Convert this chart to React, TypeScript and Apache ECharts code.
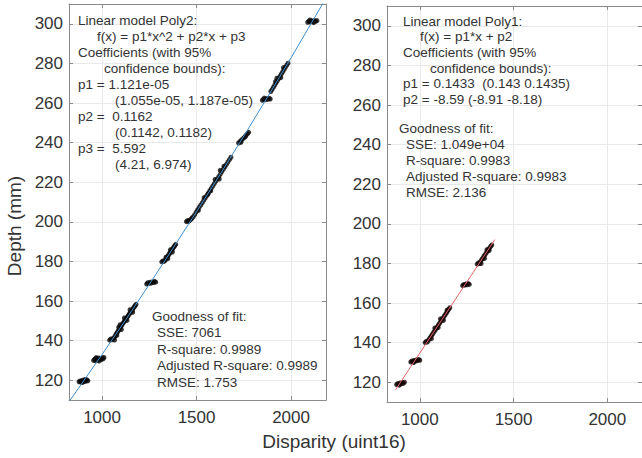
import React, { useEffect, useRef } from "react";
import * as echarts from "echarts";

// ---------- data ----------
const xTicks = [1000, 1500, 2000];
const yTicks = [120, 140, 160, 180, 200, 220, 240, 260, 280, 300];
const xRange = [825, 2185];
const yRange = [110, 310];

// Left panel: measured points (Disparity, Depth)
const poly2Points: [number, number][] = [
  [878, 119.2], [884, 119.6], [889, 119.0], [893, 119.8], [898, 119.4], [902, 120.1], [906, 119.3], [910, 119.9], [915, 119.5], [920, 120.2], [925, 119.7], [896, 118.8], [912, 120.4],
  [955, 130.0], [961, 130.6], [966, 129.8], [971, 130.9], [976, 130.3], [981, 131.2], [986, 130.5], [991, 131.0], [996, 130.4], [1001, 131.3], [1006, 130.8], [1010, 131.5], [968, 131.4], [984, 129.7],
  [1040, 140.2], [1046, 140.8], [1052, 140.4], [1058, 141.0], [1064, 141.6], [1070, 142.5], [1075, 143.4], [1080, 144.0], [1085, 144.9], [1090, 145.5], [1095, 146.4], [1100, 147.2], [1105, 147.8], [1110, 148.7], [1115, 149.3], [1120, 150.1], [1125, 150.6], [1130, 151.5], [1135, 152.1], [1140, 152.8], [1145, 153.6], [1150, 154.2], [1155, 154.9], [1160, 155.5], [1165, 156.3], [1170, 157.0], [1175, 157.6], [1180, 158.3],
  [1088, 146.8], [1102, 145.6], [1118, 151.4], [1132, 150.2], [1148, 155.6], [1162, 154.3], [1078, 142.6], [1095, 148.0], [1066, 140.3],
  [1236, 168.6], [1242, 169.2], [1248, 168.8], [1254, 169.5], [1260, 169.0], [1266, 169.7], [1272, 169.3], [1278, 169.9], [1284, 169.5],
  [1316, 179.8], [1322, 180.2], [1328, 180.0], [1334, 180.6], [1340, 181.5], [1345, 182.3], [1350, 182.9], [1355, 183.8], [1360, 184.4], [1365, 185.2], [1370, 185.8], [1375, 186.6], [1380, 187.3], [1385, 188.0], [1390, 188.6], [1348, 181.4], [1362, 185.9], [1372, 184.7], [1338, 182.1],
  [1446, 200.1], [1452, 200.6], [1458, 200.2], [1464, 200.8], [1470, 201.2], [1476, 201.9], [1482, 202.5], [1490, 203.6], [1498, 204.9], [1506, 206.1], [1514, 207.3], [1522, 208.4], [1530, 209.6], [1538, 210.8], [1546, 212.0], [1554, 213.2], [1562, 214.4], [1570, 215.7], [1578, 216.9], [1586, 218.1], [1594, 219.3], [1602, 220.5], [1610, 221.7], [1618, 222.9], [1626, 224.1], [1634, 225.4], [1642, 226.6], [1650, 227.8], [1658, 229.0], [1666, 230.2], [1674, 231.4], [1682, 232.6],
  [1510, 205.8], [1540, 212.2], [1575, 215.6], [1598, 221.4], [1620, 221.6], [1645, 228.1], [1560, 213.9], [1625, 226.0],
  [1722, 239.8], [1730, 240.6], [1738, 241.3], [1746, 242.0], [1754, 242.8], [1762, 243.7], [1770, 244.5], [1776, 245.2], [1735, 240.1], [1758, 243.0],
  [1848, 261.4], [1855, 261.9], [1862, 261.6], [1869, 262.2], [1876, 261.8], [1883, 262.4], [1890, 262.0], [1858, 262.5],
  [1893, 265.8], [1900, 266.9], [1907, 268.0], [1914, 269.1], [1921, 270.2], [1928, 271.3], [1935, 272.5], [1942, 273.6], [1949, 274.7], [1956, 275.8], [1963, 276.9], [1970, 278.0], [1977, 279.1], [1984, 280.1], [1925, 272.5], [1918, 270.9], [1946, 272.8], [1960, 277.9],
  [2088, 300.8], [2095, 301.3], [2102, 300.9], [2109, 301.5], [2116, 301.1], [2123, 301.7], [2130, 301.2], [2137, 301.6], [2100, 301.9], [2120, 300.6],
];

// Left panel: fitted curve (Poly2)
const poly2Fit: [number, number][] = [
  [825, 109.1], [1000, 133.0], [1125, 150.5], [1250, 168.4], [1375, 186.6], [1500, 205.1],
  [1625, 224.0], [1750, 243.3], [1875, 262.9], [2000, 282.8], [2185, 313.0],
];

// Right panel: measured points
const poly1Points: [number, number][] = [
  [876, 118.8], [882, 119.3], [888, 119.0], [894, 119.6], [900, 119.2], [906, 119.8], [912, 119.4], [918, 120.0], [891, 118.5],
  [952, 130.2], [958, 130.7], [964, 130.4], [970, 131.0], [976, 130.6], [982, 131.3], [988, 130.9], [994, 131.5], [1000, 131.1], [967, 129.9],
  [1028, 140.0], [1034, 140.6], [1040, 140.3], [1046, 141.2], [1052, 142.1], [1058, 142.9], [1064, 143.7], [1070, 144.6], [1076, 145.5], [1082, 146.3], [1088, 147.2], [1094, 148.1], [1100, 149.0], [1106, 149.8], [1112, 150.7], [1118, 151.6], [1124, 152.4], [1130, 153.3], [1136, 154.2], [1142, 155.0], [1148, 155.9], [1154, 156.8], [1160, 157.6],
  [1080, 147.4], [1098, 147.6], [1110, 152.0], [1126, 151.2], [1145, 156.4], [1062, 142.0],
  [1228, 168.8], [1234, 169.3], [1240, 169.0], [1246, 169.6], [1252, 169.2], [1258, 169.8], [1264, 169.4],
  [1306, 179.6], [1312, 180.3], [1318, 180.0], [1324, 180.9], [1330, 181.9], [1336, 182.6], [1342, 183.6], [1348, 184.4], [1354, 185.3], [1360, 186.1], [1366, 187.0], [1372, 187.8], [1378, 188.6], [1384, 189.3], [1327, 179.9], [1345, 182.5], [1358, 186.9], [1370, 186.5],
];

// Right panel: fitted line (Poly1)
const poly1Fit: [number, number][] = [[870, 116.1], [1400, 192.0]];

// Annotation texts
const poly2Coeffs = [
  "Linear model Poly2:",
  "f(x) = p1*x^2 + p2*x + p3",
  "Coefficients (with 95%",
  "confidence bounds):",
  "p1 = 1.121e-05",
  "(1.055e-05, 1.187e-05)",
  "p2 =  0.1162",
  "(0.1142, 0.1182)",
  "p3 =  5.592",
  "(4.21, 6.974)",
];
const poly2Fitness = ["Goodness of fit:", "SSE: 7061", "R-square: 0.9989", "Adjusted R-square: 0.9989", "RMSE: 1.753"];
const poly1Coeffs = [
  "Linear model Poly1:",
  "f(x) = p1*x + p2",
  "Coefficients (with 95%",
  "confidence bounds):",
  "p1 = 0.1433  (0.143 0.1435)",
  "p2 = -8.59 (-8.91 -8.18)",
];
const poly1Fitness = ["Goodness of fit:", "SSE: 1.049e+04", "R-square: 0.9983", "Adjusted R-square: 0.9983", "RMSE: 2.136"];

const xTitle = "Disparity (uint16)";
const yTitle = "Depth (mm)";

// ---------- layout / style ----------
const FONT = "'Liberation Sans', Arial, Helvetica, sans-serif";
const BOX = "#8a8a8a";
const GRIDC = "#e9e9e9";
const TXT = "#333333";

const poly2CoeffIndent = [78, 97, 78, 104, 78, 115, 78, 115, 78, 115];
const poly2FitIndent = [152, 157, 157, 157, 157];
const poly1CoeffIndent = [403, 420, 403, 430, 403, 403];
const poly1FitIndent = [399, 406, 406, 406, 406];

function textLines(lines: string[], xs: number[], y0: number, dy: number) {
  return lines.map((t, i) => ({
    type: "text",
    x: xs[i],
    y: y0 + i * dy,
    z: 10,
    style: {
      text: t,
      fill: TXT,
      fontSize: 13.5,
      fontFamily: FONT,
      align: "left",
      verticalAlign: "middle",
      textAlign: "left",
      textVerticalAlign: "middle",
    },
  }));
}

const plainNumber = (v: number) => String(Math.round(v));

function xAxes(gridIndex: number) {
  const common = {
    gridIndex,
    type: "value",
    min: xRange[0],
    max: xRange[1],
    axisLine: { show: true, lineStyle: { color: BOX, width: 1 } },
    axisTick: { show: true, inside: true, length: 4, customValues: xTicks, lineStyle: { color: BOX } },
  };
  return [
    {
      ...common,
      position: "bottom",
      axisLabel: { show: true, customValues: xTicks, formatter: plainNumber, fontSize: 17, color: TXT, fontFamily: FONT, margin: 9 },
      splitLine: { show: true, lineStyle: { color: GRIDC, width: 1 } },
    },
    {
      ...common,
      position: "top",
      axisLabel: { show: false },
      splitLine: { show: false },
    },
  ];
}

function yAxes(gridIndex: number) {
  const common = {
    gridIndex,
    type: "value",
    min: yRange[0],
    max: yRange[1],
    axisLine: { show: true, lineStyle: { color: BOX, width: 1 } },
    axisTick: { show: true, inside: true, length: 4, customValues: yTicks, lineStyle: { color: BOX } },
  };
  return [
    {
      ...common,
      position: "left",
      axisLabel: { show: true, customValues: yTicks, formatter: plainNumber, fontSize: 17, color: TXT, fontFamily: FONT, margin: 6 },
      splitLine: { show: true, lineStyle: { color: GRIDC, width: 1 } },
    },
    {
      ...common,
      position: "right",
      axisLabel: { show: false },
      splitLine: { show: false },
    },
  ];
}

export default function App() {
  const ref = useRef<HTMLDivElement>(null);

  useEffect(() => {
    if (!ref.current) return;
    const chart = echarts.init(ref.current, undefined, { renderer: "svg" });
    const option: any = {
      animation: false,
      backgroundColor: "#ffffff",
      grid: [
        { left: 69, top: 4, width: 257, height: 396 },
        { left: 387, top: 6, width: 261, height: 396 },
      ],
      xAxis: [...xAxes(0), ...xAxes(1)],
      yAxis: [...yAxes(0), ...yAxes(1)],
      series: [
        {
          type: "scatter",
          xAxisIndex: 0,
          yAxisIndex: 0,
          data: poly2Points,
          symbol: "circle",
          symbolSize: 5,
          itemStyle: { color: "#0a0a0a" },
          z: 2,
        },
        {
          type: "line",
          xAxisIndex: 0,
          yAxisIndex: 0,
          data: poly2Fit,
          showSymbol: false,
          symbol: "none",
          lineStyle: { color: "#3f8fd0", width: 1 },
          z: 3,
        },
        {
          type: "scatter",
          xAxisIndex: 2,
          yAxisIndex: 2,
          data: poly1Points,
          symbol: "circle",
          symbolSize: 5,
          itemStyle: { color: "#140808" },
          z: 2,
        },
        {
          type: "line",
          xAxisIndex: 2,
          yAxisIndex: 2,
          data: poly1Fit,
          showSymbol: false,
          symbol: "none",
          lineStyle: { color: "#e2646c", width: 1 },
          z: 3,
        },
      ],
      graphic: [
        ...textLines(poly2Coeffs, poly2CoeffIndent, 20, 16),
        ...textLines(poly2Fitness, poly2FitIndent, 316, 16.5),
        ...textLines(poly1Coeffs, poly1CoeffIndent, 21, 15.7),
        ...textLines(poly1Fitness, poly1FitIndent, 128, 16),
        {
          type: "text",
          x: 334,
          y: 441,
          style: {
            text: xTitle, fill: TXT, fontSize: 19, fontFamily: FONT,
            align: "center", verticalAlign: "middle", textAlign: "center", textVerticalAlign: "middle",
          },
        },
        {
          type: "text",
          x: 14,
          y: 226,
          rotation: Math.PI / 2,
          style: {
            text: yTitle, fill: TXT, fontSize: 19, fontFamily: FONT,
            align: "center", verticalAlign: "middle", textAlign: "center", textVerticalAlign: "middle",
          },
        },
      ],
    };
    chart.setOption(option);
    return () => chart.dispose();
  }, []);

  return (
    <div
      ref={ref}
      style={{ position: "fixed", left: 0, top: 0, width: 642, height: 458, background: "#fff" }}
    />
  );
}
